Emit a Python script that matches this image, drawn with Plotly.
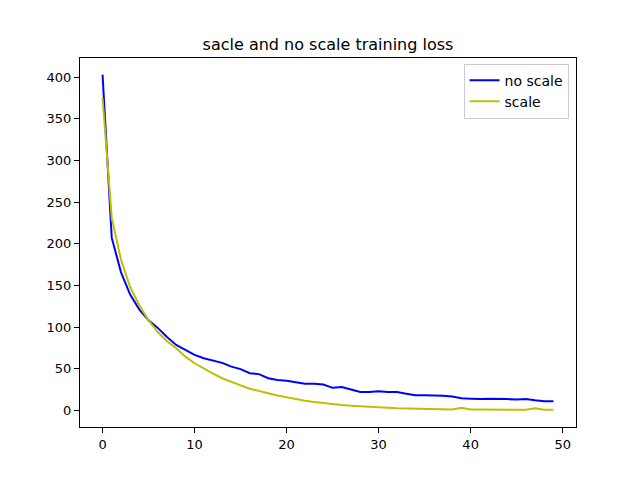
import plotly.graph_objects as go

# ── Data ──────────────────────────────────────────────────────────────────────
epochs = list(range(50))

no_scale_loss = [
    403, 207, 166, 139, 121, 108, 99, 88, 78.5, 72.5,
    66.5, 62.5, 59.5, 57, 52.5, 49.5, 44.5, 43.5, 38.5, 36.5,
    35.5, 34, 32, 32, 31, 27, 28, 25, 22, 22,
    23, 22, 22, 20, 18, 18, 18, 17.5, 16.5, 14.5,
    14, 13.5, 14, 14, 13.5, 13, 13.5, 12, 11, 11,
]

scale_loss = [
    375, 231, 181, 148, 126, 108, 94, 83, 74.5, 64.5,
    56.5, 50, 44, 38.5, 34, 30, 26, 23, 20, 17.8,
    15.8, 13.5, 11.5, 10, 8.5, 7.5, 6.3, 5.5, 4.7, 4.0,
    3.5, 3.0, 2.5, 2.2, 1.9, 1.6, 1.4, 1.2, 1.1, 3.0,
    1.0, 0.9, 0.9, 0.8, 0.8, 0.8, 0.8, 2.5, 0.8, 0.7,
]

x_ticks = [0, 10, 20, 30, 40, 50]
y_ticks = [0, 50, 100, 150, 200, 250, 300, 350, 400]

FONT = "DejaVu Sans"

# ── Figure ────────────────────────────────────────────────────────────────────
fig = go.Figure()
fig.add_trace(go.Scatter(
    x=epochs, y=no_scale_loss, name="no scale", mode="lines",
    line=dict(color="#0000ff", width=2),
))
fig.add_trace(go.Scatter(
    x=epochs, y=scale_loss, name="scale", mode="lines",
    line=dict(color="#bfbf00", width=2),
))

axis_style = dict(
    showline=True, linecolor="black", linewidth=1, mirror=True,
    ticks="outside", ticklen=5, tickwidth=1, tickcolor="black",
    showgrid=False, zeroline=False,
    tickfont=dict(family=FONT, size=13, color="black"),
)

# page body has an 8px margin, so margins are shifted to put the axes
# where the reference has them
fig.update_layout(
    width=640, height=480,
    paper_bgcolor="white", plot_bgcolor="white",
    margin=dict(l=72, r=72, t=50, b=61),
    title=dict(
        text="sacle and no scale training loss",
        x=(328 - 8) / 640, xanchor="center", y=1 - 36 / 480, yanchor="middle",
        font=dict(family=FONT, size=16, color="black"),
    ),
    showlegend=True,
    legend=dict(
        x=0.985, y=0.985, xanchor="right", yanchor="top",
        bgcolor="rgba(255,255,255,0.8)", bordercolor="#cccccc", borderwidth=1,
        font=dict(family=FONT, size=14, color="black"),
    ),
    xaxis=dict(range=[-2.45, 51.45], tickvals=x_ticks, **axis_style),
    yaxis=dict(range=[-20, 423], tickvals=y_ticks, **axis_style),
)

fig.write_html("out.html")
